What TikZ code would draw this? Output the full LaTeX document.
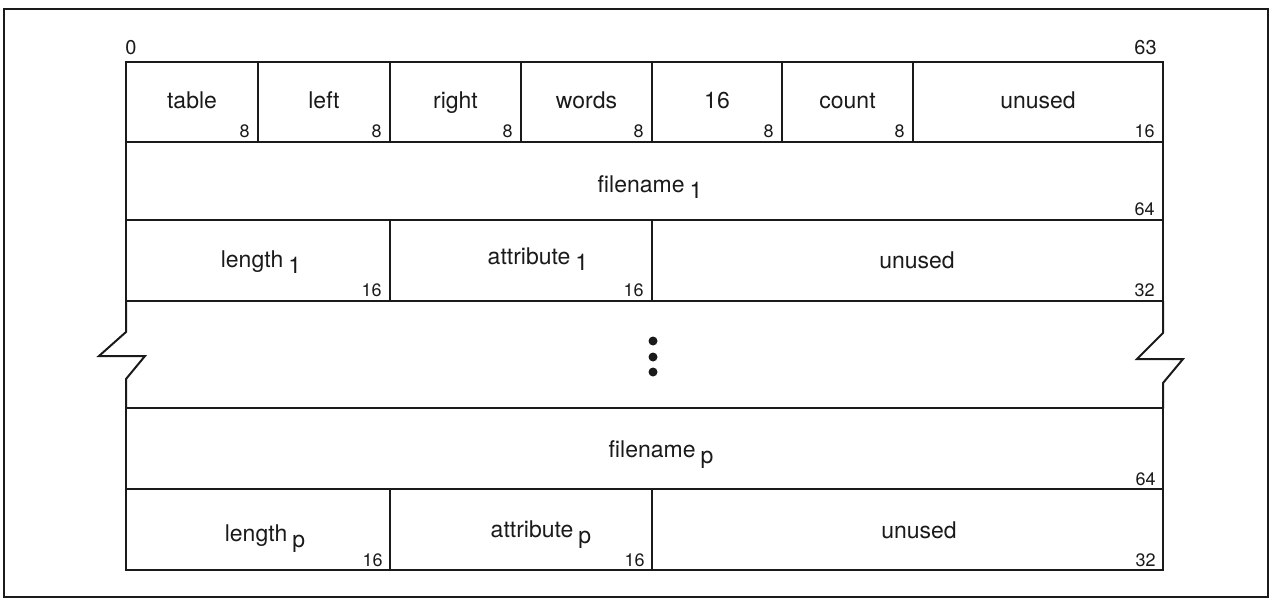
\documentclass[tikz,border=0pt]{standalone}
\usepackage{fontspec}
\setmainfont{TeX Gyre Heros}
\usepackage{tikz}
\usetikzlibrary{positioning,calc}
\definecolor{ink}{HTML}{1A1A1A}
\tikzset{
  cellbox/.style={draw=ink, line width=1pt},
  framebox/.style={draw=ink, line width=0.75pt},
  fieldname/.style={
    inner sep=0pt, anchor=base, text=ink,
    font=\fontsize{11.5}{13}\selectfont
  },
  bitcount/.style={
    inner sep=0pt, anchor=base east, text=ink,
    font=\fontsize{9}{10}\selectfont
  },
  bitindex/.style={
    inner sep=0pt, text=ink,
    font=\fontsize{10}{12}\selectfont
  },
  gapdot/.style={fill=ink, circle, inner sep=0pt, minimum size=4.5pt}
}
\newcommand{\subidx}[1]{\hspace{2.5pt}\raisebox{-3.2pt}{#1}}

\begin{document}
\begin{tikzpicture}[x=0.5pt,y=-0.5pt]
  \useasboundingbox (0,0) rectangle (1272,599);
  \draw[framebox] (4,9) rectangle (1268,597);

  % bit positions
  \node[bitindex,anchor=base west] (bitlow) at (125,55) {0};
  \node[bitindex,anchor=base east] (bithigh) at (1157,55) {63};

  % header word
  \foreach \xa/\xb/\txt/\bits [count=\i] in
      {126/258/table/8, 258/390/left/8, 390/521/right/8, 521/652/words/8,
       652/782/16/8, 782/913/count/8, 913/1163/unused/16} {
    \draw[cellbox] (\xa,62) rectangle (\xb,142);
    \node[fieldname] (head\i) at ({(\xa+\xb)/2},108) {\txt};
    \node[bitcount] (headbits\i) at (\xb-8,137) {\bits};
  }

  % first entry
  \draw[cellbox] (126,142) rectangle (1163,220);
  \node[fieldname] (fnameone) at (650,192) {filename\subidx{1}};
  \node[bitcount] (fnameonebits) at (1155,215) {64};

  \draw[cellbox] (126,220) rectangle (390,301);
  \node[fieldname] (lenone) at (261,267) {length\subidx{1}};
  \node[bitcount] (lenonebits) at (382,296) {16};
  \draw[cellbox] (390,220) rectangle (652,301);
  \node[fieldname] (attrone) at (538,264) {attribute\subidx{1}};
  \node[bitcount] (attronebits) at (644,296) {16};
  \draw[cellbox] (652,220) rectangle (1163,301);
  \node[fieldname] (unusedone) at (917,268) {unused};
  \node[bitcount] (unusedonebits) at (1155,296) {32};

  % omitted entries
  \draw[cellbox] (126,301) -- (126,332) -- (99,356) -- (145,356) -- (126,379) -- (126,408);
  \draw[cellbox] (1163,301) -- (1163,333) -- (1137,359) -- (1183,359) -- (1163,383) -- (1163,408);
  \node[gapdot] (dota) at (653,341) {};
  \node[gapdot] (dotb) at (653,357) {};
  \node[gapdot] (dotc) at (653,372) {};

  % last entry
  \draw[cellbox] (126,408) rectangle (1163,489);
  \node[fieldname] (fnamep) at (661,457) {filename\subidx{p}};
  \node[bitcount] (fnamepbits) at (1156,485) {64};

  \draw[cellbox] (126,489) rectangle (390,570);
  \node[fieldname] (lenp) at (265,541) {length\subidx{p}};
  \node[bitcount] (lenpbits) at (383,566) {16};
  \draw[cellbox] (390,489) rectangle (652,570);
  \node[fieldname] (attrp) at (541,537) {attribute\subidx{p}};
  \node[bitcount] (attrpbits) at (645,566) {16};
  \draw[cellbox] (652,489) rectangle (1163,570);
  \node[fieldname] (unusedp) at (919,538) {unused};
  \node[bitcount] (unusedpbits) at (1156,566) {32};
\end{tikzpicture}
\end{document}
